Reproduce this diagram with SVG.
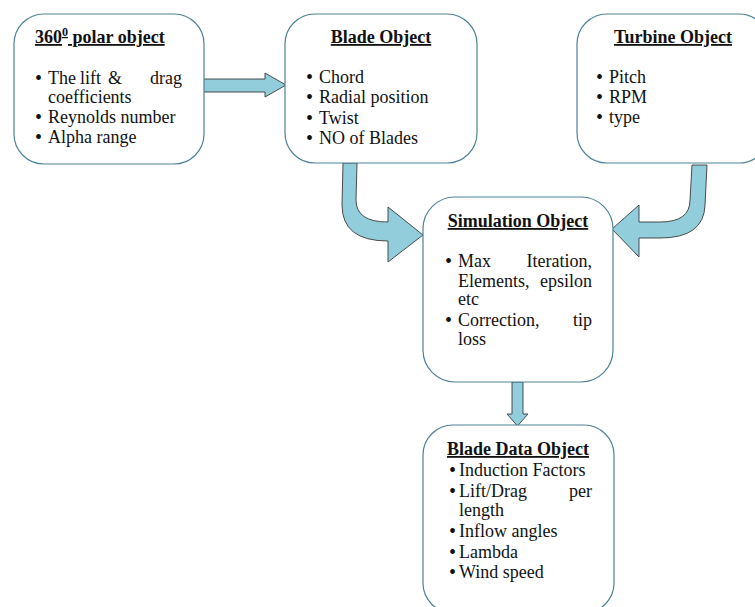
<svg xmlns="http://www.w3.org/2000/svg" width="755" height="607" viewBox="0 0 755 607">
<style>
.box{fill:#fff;stroke:#4f8299;stroke-width:1.2}
.arr{fill:#92CDDC;stroke:#3a3a3a;stroke-width:0.9;stroke-linejoin:miter}
text{font-family:"Liberation Serif",serif;font-size:18px;fill:#111}
.t{font-weight:bold;text-decoration:underline}
.b{font-size:20px}
</style>
<rect width="755" height="607" fill="#fff"/>
<g id="connectors">
<path class="arr" d="M203,79 L265,79 L265,73 L286,85 L265,97 L265,92 L203,92 Z"/>
<path class="arr" d="M343,163 L357,163 L356,200 Q356,222 388,222 L388,207 L423,235 L388,262 L388,241 Q342,241 342,205 Z"/>
<path class="arr" d="M692,165 L707,165 L705,205 Q704,238 660,238 L639,238 L639,257 L612,229 L639,205 L639,222 L660,222 Q690,222 690,200 Z"/>
<path class="arr" d="M512,382 L523,382 L523,414 L528,414 L517.5,426 L507,414 L512,414 Z"/>
</g>
<g id="polar">
<rect class="box" x="14" y="14" width="190" height="150" rx="30"/>
<text class="t" x="35" y="43">360<tspan baseline-shift="super" font-size="12">0</tspan> polar object</text>
<text class="b" x="35" y="85">•</text>
<text y="84"><tspan x="48">The</tspan><tspan x="80">lift</tspan><tspan x="108">&amp;</tspan><tspan x="150">drag</tspan></text>
<text x="48" y="103">coefficients</text>
<text class="b" x="35" y="124">•</text>
<text x="48" y="123">Reynolds number</text>
<text class="b" x="35" y="144">•</text>
<text x="48" y="143">Alpha  range</text>
</g>
<g id="blade">
<rect class="box" x="285" y="14" width="192" height="149" rx="30"/>
<text class="t" x="381" y="43" text-anchor="middle">Blade Object</text>
<text class="b" x="306" y="84">•</text><text x="319" y="83">Chord</text>
<text class="b" x="306" y="104">•</text><text x="319" y="103">Radial position</text>
<text class="b" x="306" y="125">•</text><text x="319" y="124">Twist</text>
<text class="b" x="306" y="145">•</text><text x="319" y="144">NO of Blades</text>
</g>
<g id="turbine">
<rect class="box" x="577" y="14" width="192" height="149" rx="30"/>
<text class="t" x="673" y="43" text-anchor="middle">Turbine Object</text>
<text class="b" x="596" y="84">•</text><text x="609" y="83">Pitch</text>
<text class="b" x="596" y="104">•</text><text x="609" y="103">RPM</text>
<text class="b" x="596" y="124">•</text><text x="609" y="123">type</text>
</g>
<g id="simulation">
<rect class="box" x="423" y="197" width="190" height="185" rx="32"/>
<text class="t" x="518" y="227" text-anchor="middle">Simulation Object</text>
<text class="b" x="445" y="268">•</text>
<text x="458" y="267">Max</text><text x="592" y="267" text-anchor="end">Iteration,</text>
<text x="458" y="287">Elements,</text><text x="592" y="287" text-anchor="end">epsilon</text>
<text x="458" y="305">etc</text>
<text class="b" x="445" y="327">•</text>
<text x="458" y="326">Correction,</text><text x="592" y="326" text-anchor="end">tip</text>
<text x="458" y="345">loss</text>
</g>
<g id="bladedata">
<rect class="box" x="423" y="425" width="191" height="188" rx="30"/>
<text class="t" x="518" y="455" text-anchor="middle">Blade Data Object</text>
<text class="b" x="449" y="477">•</text><text x="459" y="476">Induction Factors</text>
<text class="b" x="449" y="498">•</text><text x="459" y="497">Lift/Drag</text><text x="592" y="497" text-anchor="end">per</text>
<text x="459" y="516">length</text>
<text class="b" x="449" y="538">•</text><text x="459" y="537">Inflow angles</text>
<text class="b" x="449" y="559">•</text><text x="459" y="558">Lambda</text>
<text class="b" x="449" y="579">•</text><text x="459" y="578">Wind speed</text>
</g>
</svg>
